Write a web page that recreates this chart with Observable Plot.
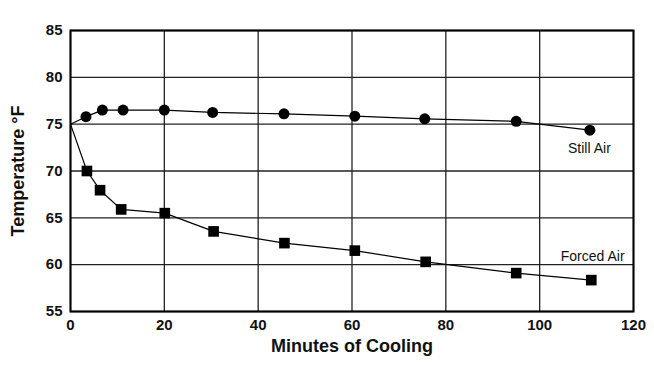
<!DOCTYPE html>
<html>
<head>
<meta charset="utf-8">
<script src="https://cdn.jsdelivr.net/npm/d3@7"></script>
<script src="https://cdn.jsdelivr.net/npm/@observablehq/plot@0.6"></script>
<style>
  html, body { margin: 0; padding: 0; background: #fff; }
  #chart svg { display: block; }
</style>
</head>
<body>
<div id="chart"></div>
<script>
const stillMinutes = [0, 3.3, 6.8, 11.2, 20, 30.3, 45.5, 60.6, 75.5, 95, 110.7];
const stillTemps   = [75, 75.8, 76.5, 76.5, 76.5, 76.25, 76.1, 75.85, 75.57, 75.3, 74.36];
const forcedMinutes = [0, 3.5, 6.3, 10.8, 20.1, 30.5, 45.6, 60.6, 75.7, 95, 111];
const forcedTemps   = [75, 70, 67.95, 65.9, 65.5, 63.55, 62.3, 61.5, 60.3, 59.1, 58.35];
const xTicks = [0, 20, 40, 60, 80, 100, 120];
const yTicks = [55, 60, 65, 70, 75, 80, 85];
const seriesLabels = [
  {name: "Still Air", x: 110.6, y: 72.44},
  {name: "Forced Air", x: 111.3, y: 60.9}
];

const still = stillMinutes.map((m, i) => ({m, t: stillTemps[i]}));
const forced = forcedMinutes.map((m, i) => ({m, t: forcedTemps[i]}));
const stillMarks = still.slice(1);
const forcedMarks = forced.slice(1);

const chart = Plot.plot({
  width: 654,
  height: 383,
  marginLeft: 70,
  marginRight: 21,
  marginTop: 30,
  marginBottom: 72,
  style: {fontFamily: "'Liberation Sans', Arial, sans-serif", background: "#fff"},
  x: {domain: [0, 120], ticks: xTicks, label: null},
  y: {domain: [55, 85], ticks: yTicks, label: null},
  marks: [
    Plot.ruleX(xTicks, {stroke: "#222", strokeWidth: 1.3}),
    Plot.ruleY(yTicks, {stroke: "#222", strokeWidth: 1.3}),
    Plot.frame({stroke: "#000", strokeWidth: 2}),
    Plot.axisX({ticks: xTicks, tickSize: 0, tickPadding: 8, fontSize: 15, fontWeight: "bold", fill: "#111", label: null, style: {letterSpacing: "0.8px"}}),
    Plot.axisY({ticks: yTicks, tickSize: 0, tickPadding: 8, fontSize: 15, fontWeight: "bold", fill: "#111", label: null, style: {letterSpacing: "0.8px"}}),
    Plot.line(still, {x: "m", y: "t", stroke: "#000", strokeWidth: 1.2}),
    Plot.line(forced, {x: "m", y: "t", stroke: "#000", strokeWidth: 1.2}),
    Plot.dot(stillMarks, {x: "m", y: "t", r: 5.5, fill: "#000", symbol: "circle"}),
    Plot.dot(forcedMarks, {x: "m", y: "t", r: 6, fill: "#000", symbol: "square"}),
    Plot.text(seriesLabels, {x: "x", y: "y", text: "name", fontSize: 14, fill: "#111", textAnchor: "middle"}),
    Plot.text(["Minutes of Cooling"], {frameAnchor: "bottom", dy: 40, fontSize: 18, fontWeight: "bold", fill: "#111", textAnchor: "middle", style: {letterSpacing: "1px"}}),
    Plot.text(["Temperature °F"], {frameAnchor: "left", dx: -52, rotate: -90, textAnchor: "middle", fontSize: 18, fontWeight: "bold", fill: "#111", style: {letterSpacing: "1px"}})
  ]
});
document.getElementById("chart").appendChild(chart);
</script>
</body>
</html>
